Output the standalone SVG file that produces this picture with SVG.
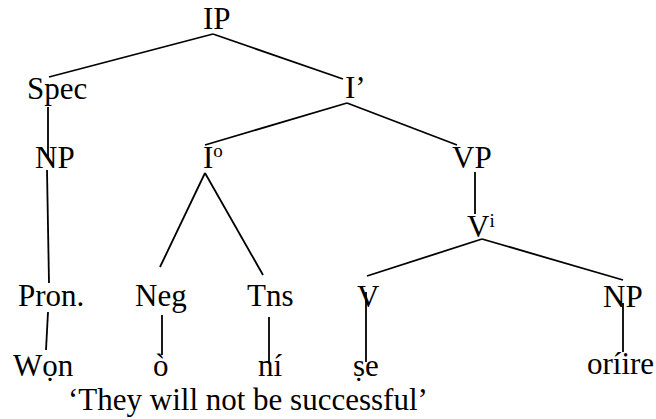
<svg xmlns="http://www.w3.org/2000/svg" width="656" height="419" viewBox="0 0 656 419">
  <style>
    text { font-family: "Liberation Serif", "Times New Roman", "DejaVu Serif", serif; font-size: 31px; fill: #000; }
    .sup { font-size: 19px; }
    .edge { stroke: #000; stroke-width: 1.8; fill: none; stroke-linecap: butt; }
  </style>
  <rect width="656" height="419" fill="#fff"/>

  <!-- branches of the syntax tree -->
  <g id="connectors">
    <line class="edge" x1="213" y1="34" x2="49" y2="77"/>
    <line class="edge" x1="213" y1="34" x2="343" y2="79"/>
    <line class="edge" x1="48" y1="107" x2="48" y2="157"/>
    <line class="edge" x1="47" y1="170" x2="49" y2="283"/>
    <line class="edge" x1="347" y1="103" x2="205" y2="145"/>
    <line class="edge" x1="347" y1="103" x2="457" y2="145"/>
    <line class="edge" x1="205" y1="173" x2="160" y2="267"/>
    <line class="edge" x1="205" y1="173" x2="263" y2="275"/>
    <line class="edge" x1="475" y1="172" x2="475" y2="214"/>
    <line class="edge" x1="482" y1="239" x2="367" y2="276"/>
    <line class="edge" x1="482" y1="239" x2="623" y2="280"/>
    <line class="edge" x1="48" y1="312" x2="46" y2="350"/>
    <line class="edge" x1="162" y1="315" x2="162" y2="355"/>
    <line class="edge" x1="269" y1="317" x2="269" y2="363"/>
    <line class="edge" x1="366" y1="292" x2="366" y2="362"/>
    <line class="edge" x1="623" y1="303" x2="623" y2="352"/>
  </g>

  <!-- phrase nodes -->
  <g id="node-IP"><text x="203" y="29">IP</text></g>
  <g id="node-Spec"><text x="27" y="99">Spec</text></g>
  <g id="node-Ibar"><text x="345" y="98">I’</text></g>
  <g id="node-NP-subj"><text x="35" y="168">NP</text></g>
  <g id="node-I0"><text x="203" y="168">I<tspan class="sup" dy="-11">o</tspan></text></g>
  <g id="node-VP"><text x="452" y="168">VP</text></g>
  <g id="node-Vi"><text x="467" y="237">V<tspan class="sup" dy="-10">i</tspan></text></g>

  <!-- terminal categories -->
  <g id="node-Pron"><text x="18" y="306">Pron.</text></g>
  <g id="node-Neg"><text x="135" y="306">Neg</text></g>
  <g id="node-Tns"><text x="247" y="306">Tns</text></g>
  <g id="node-V"><text x="357" y="307">V</text></g>
  <g id="node-NP-obj"><text x="603" y="307">NP</text></g>

  <!-- Yoruba words -->
  <g id="word-won"><text x="13" y="376">Wọn</text></g>
  <g id="word-o"><text x="153" y="376">ò</text></g>
  <g id="word-ni"><text x="258" y="376">ní</text></g>
  <g id="word-se"><text x="353" y="376">ṣe</text></g>
  <g id="word-oriire"><text x="587" y="374">oríire</text></g>

  <!-- gloss -->
  <g id="gloss"><text x="68" y="410">‘They will not be successful’</text></g>
</svg>
